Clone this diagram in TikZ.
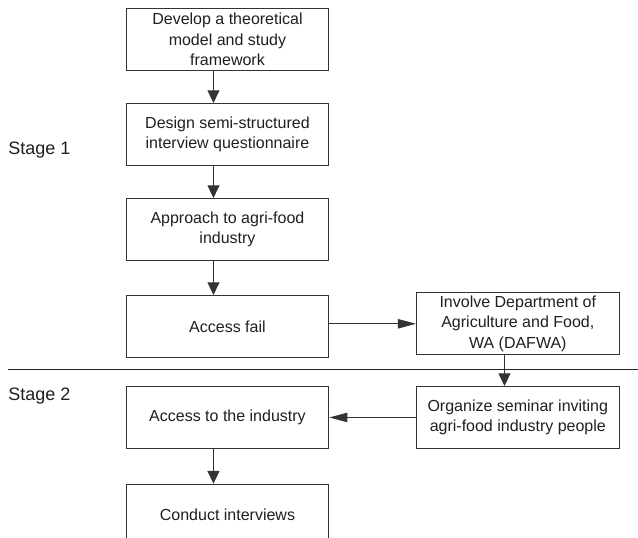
\documentclass[tikz,border=0pt]{standalone}
\usepackage{fontspec}
\setmainfont{Liberation Sans}
\usetikzlibrary{arrows.meta, positioning, calc}
\tikzset{
  stepbox/.style={draw=black!80, line width=0.75pt, minimum width=152pt, minimum height=46.5pt, align=center, inner sep=2pt, font=\fontsize{12}{15.4}\selectfont, text=black!88},
  stagelabel/.style={anchor=base west, inner sep=0pt, font=\fontsize{13.5}{16}\selectfont, text=black!88},
  downarrow/.style={-{Triangle[length=9.5pt, width=9pt]}, line width=0.75pt, draw=black!80},
  sidearrow/.style={-{Triangle[length=13.5pt, width=7pt]}, line width=0.75pt, draw=black!80},
  divider/.style={line width=0.75pt, draw=black!85},
}
\begin{document}
\begin{tikzpicture}[node distance=24pt]
  \coordinate (nw) at (-170.6pt,29.6pt);
  \coordinate (se) at (307.9pt,-373.9pt);
  \clip (nw) rectangle (se);
  % stage 1 column
  \node[stepbox] (model) {Develop a theoretical\\model and study\\framework};
  \node[stepbox, below=of model] (design) {Design semi-structured\\interview questionnaire};
  \node[stepbox, below=of design] (approach) {Approach to agri-food\\industry};
  \node[stepbox, below=25.5pt of approach] (fail) {Access fail};
  \node[stepbox, right=65pt of fail, yshift=2pt] (dafwa) {Involve Department of\\Agriculture and Food,\\WA (DAFWA)};
  % stage 2
  \node[stepbox, below=23pt of dafwa] (seminar) {Organize seminar inviting\\agri-food industry people};
  \node[stepbox] (access) at (fail |- seminar) {Access to the industry};
  \node[stepbox, below=26pt of access] (interview) {Conduct interviews};
  % divider and stage labels
  \coordinate[below=9pt of fail.south] (cut);
  \draw[divider] ($(nw |- cut)+(6pt,0)$) -- (se |- cut);
  \node[stagelabel] (stage1) at ($(nw |- design)+(6pt,-15.4pt)$) {Stage 1};
  \node[stagelabel] (stage2) at ($(nw |- access)+(6pt,12.75pt)$) {Stage 2};
  % connectors
  \foreach \i/\j in {model/design,design/approach,approach/fail,access/interview}
    \draw[downarrow] ([xshift=-10.5pt]\i.south) -- ([xshift=-10.5pt]\j.north);
  \draw[downarrow] ([xshift=-10pt]dafwa.south) -- ([xshift=-10pt]dafwa.south |- seminar.north);
  \draw[sidearrow] (fail.east |- dafwa) -- (dafwa.west);
  \draw[sidearrow] (seminar.west) -- (access.east);
\end{tikzpicture}
\end{document}
